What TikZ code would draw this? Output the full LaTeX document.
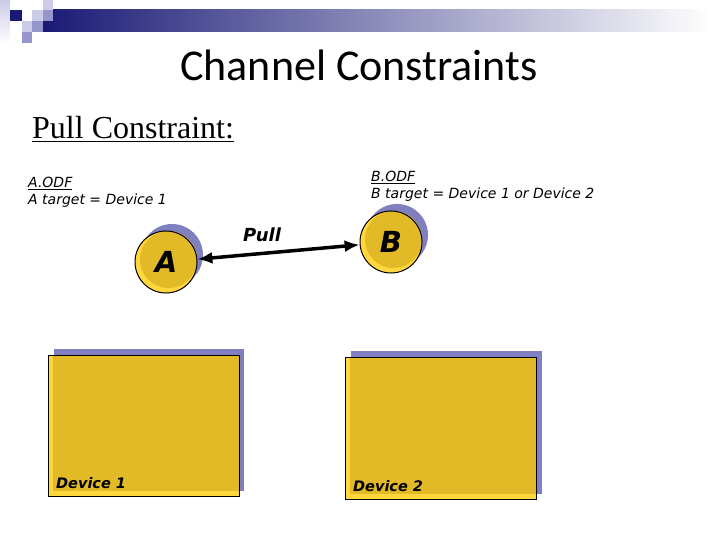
\documentclass[tikz,border=0pt]{standalone}
\usepackage{fontspec}
\setmainfont{Liberation Serif}
\newfontfamily\titlefont{Carlito}
\newfontfamily\odffont{DejaVu Sans}
\usetikzlibrary{arrows.meta, positioning}

\definecolor{navy}{RGB}{26,26,118}
\definecolor{lavlight}{RGB}{204,204,232}
\definecolor{lavmid}{RGB}{150,150,204}
\definecolor{shadowblue}{RGB}{128,128,192}
\definecolor{goldlight}{RGB}{255,214,60}
\definecolor{golddark}{RGB}{226,186,40}

\begin{document}
\begin{tikzpicture}[x=1pt, y=-1pt,
    ball node/.style={circle, draw, line width=1pt, minimum size=62pt, inner sep=0pt, font=\odffont\fontsize{29}{29}\selectfont\bfseries\itshape},
    box node/.style={rectangle, draw, line width=1pt, anchor=north west, inner sep=0pt},
    odf text/.style={anchor=base west, inner sep=0pt, font=\odffont\fontsize{14}{16}\selectfont\itshape},
    dev text/.style={anchor=base west, inner sep=0pt, font=\odffont\fontsize{14.5}{16}\selectfont\bfseries\itshape},
    arrow/.style={{Latex[length=15pt,width=12pt]}-{Latex[length=15pt,width=12pt]}, line width=3.5pt}
    ]

    \useasboundingbox (0,0) rectangle (720,540);

    % 上部の帯
    \shade[left color=navy, middle color={rgb,255:red,175;green,175;blue,205}, right color=white] (43,10) rectangle (712,32);
    \shade[top color=lavlight, bottom color=white] (0,0) rectangle (10,44);
    \fill[navy] (10,10) rectangle (22,21);
    \fill[lavlight] (43,0) rectangle (53,10);
    \fill[lavlight] (32,10) rectangle (43,21);
    \fill[lavmid] (43,10) rectangle (53,21);
    \fill[lavlight] (22,21) rectangle (32,32);
    \fill[lavmid] (32,21) rectangle (43,32);
    \fill[lavmid] (22,32) rectangle (32,43);

    % タイトル
    \node[anchor=base, inner sep=0pt, font=\titlefont\fontsize{44}{44}\selectfont] (title) at (359,81) {Channel Constraints};
    \node[anchor=base west, inner sep=0pt, font=\fontsize{32}{32}\selectfont] (sub) at (32,139) {\underline{Pull Constraint:}};

    % ODF のテキスト
    \node[odf text] (Aodf) at (28,188) {\underline{A.ODF}};
    \node[odf text] (Atgt) at (28,205) {A target = Device 1};
    \node[odf text] (Bodf) at (371,182) {\underline{B.ODF}};
    \node[odf text] (Btgt) at (371,199) {B target = Device 1 or Device 2};

    % 丸
    \fill[shadowblue] (172,255) circle (31);
    \fill[goldlight] (166,262) circle (31);
    \fill[golddark] (168.5,259.5) circle (28.5);
    \node[ball node] (A) at (166,262) {\raisebox{-5pt}{A}};

    \fill[shadowblue] (397,235) circle (31);
    \fill[goldlight] (391,242) circle (31);
    \fill[golddark] (393.5,239.5) circle (28.5);
    \node[ball node] (B) at (391,242) {B};

    % 箱
    \fill[shadowblue] (54,349) rectangle (244,491);
    \fill[goldlight] (48,355) rectangle (239,496);
    \fill[golddark] (53,355) rectangle (239,491);
    \node[box node, minimum width=191pt, minimum height=141pt] (D1) at (48,355) {};
    \node[dev text] (D1txt) at (56,488) {Device 1};

    \fill[shadowblue] (351,351) rectangle (542,494);
    \fill[goldlight] (345,357) rectangle (536,499);
    \fill[golddark] (350,357) rectangle (536,494);
    \node[box node, minimum width=191pt, minimum height=142pt] (D2) at (345,357) {};
    \node[dev text] (D2txt) at (353,491) {Device 2};

    % 矢印
    \draw[arrow] (A) -- (B);
    \node[anchor=base west, inner sep=0pt, font=\odffont\fontsize{18}{18}\selectfont\bfseries\itshape] (pull) at (243,241) {Pull};

\end{tikzpicture}
\end{document}
